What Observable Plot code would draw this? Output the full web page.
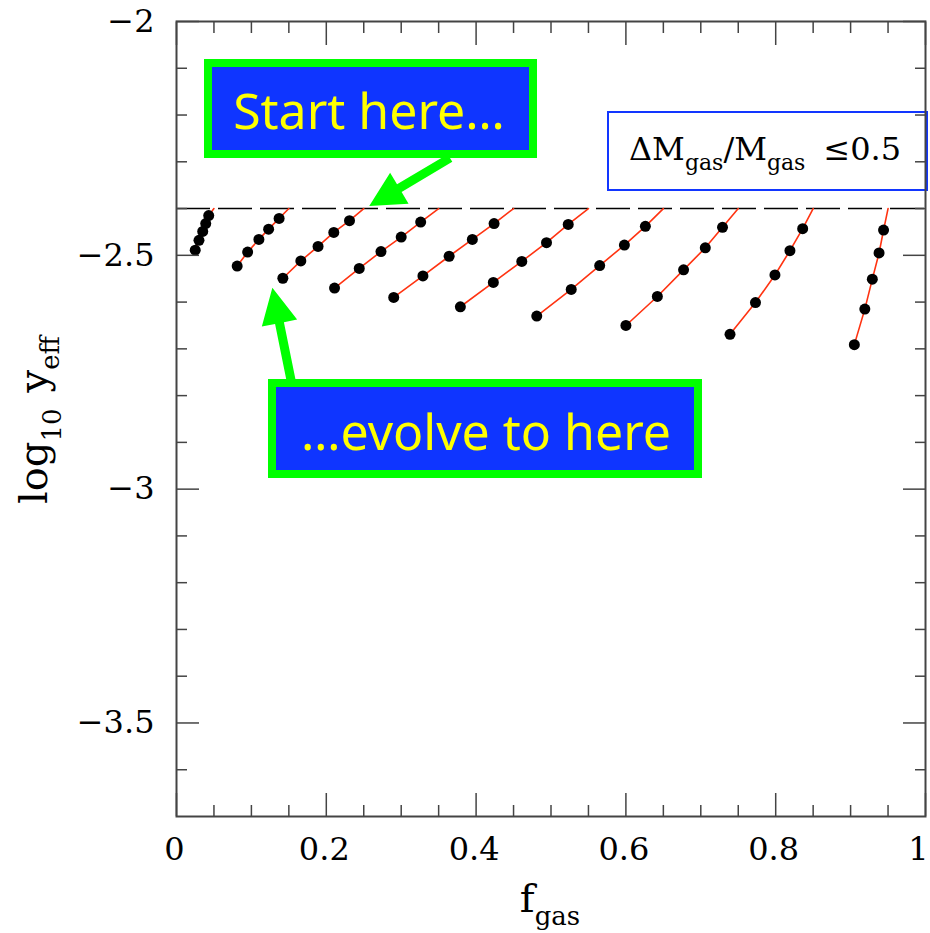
<!DOCTYPE html>
<html><head><meta charset="utf-8">
<script src="https://cdn.jsdelivr.net/npm/d3@7"></script>
<script src="https://cdn.jsdelivr.net/npm/@observablehq/plot@0.6"></script>
<style>body{margin:0;background:#fff} #chart{width:930px;height:933px}</style>
</head><body><div id="chart"></div>
<script>
// Each track starts on the dashed line (log y_eff = -2.4) and evolves down-left.
const startFgas = [0.05, 0.15, 0.25, 0.35, 0.45, 0.55, 0.65, 0.75, 0.85, 0.95];
const startLogY = -2.4;
const trackFgas = [
  [0.025, 0.030, 0.035, 0.039, 0.043],
  [0.081, 0.095, 0.110, 0.123, 0.137],
  [0.142, 0.166, 0.189, 0.210, 0.231],
  [0.211, 0.244, 0.273, 0.300, 0.326],
  [0.290, 0.329, 0.364, 0.395, 0.424],
  [0.379, 0.423, 0.461, 0.494, 0.523],
  [0.481, 0.527, 0.565, 0.598, 0.626],
  [0.600, 0.642, 0.677, 0.706, 0.729],
  [0.739, 0.773, 0.799, 0.819, 0.836],
  [0.905, 0.919, 0.929, 0.938, 0.944]
];
const trackLogY = [
  [-2.489, -2.468, -2.449, -2.432, -2.415],
  [-2.523, -2.493, -2.466, -2.444, -2.421],
  [-2.549, -2.512, -2.481, -2.451, -2.426],
  [-2.570, -2.528, -2.492, -2.461, -2.429],
  [-2.590, -2.544, -2.502, -2.466, -2.432],
  [-2.610, -2.558, -2.513, -2.473, -2.434],
  [-2.630, -2.573, -2.522, -2.478, -2.438],
  [-2.650, -2.588, -2.531, -2.484, -2.440],
  [-2.669, -2.601, -2.542, -2.490, -2.443],
  [-2.691, -2.615, -2.551, -2.495, -2.446]
];
const xMajorTicks = [0, 0.2, 0.4, 0.6, 0.8, 1];
const xMinorTicks = [0.05, 0.1, 0.15, 0.25, 0.3, 0.35, 0.45, 0.5, 0.55, 0.65, 0.7, 0.75, 0.85, 0.9, 0.95];
const yMajorTicks = [-2, -2.5, -3, -3.5];
const yMinorTicks = [-2.1, -2.2, -2.3, -2.4, -2.6, -2.7, -2.8, -2.9, -3.1, -3.2, -3.3, -3.4, -3.6];
const startLabel = "Start here…";
const endLabel = "…evolve to here";

// Build tables
const lineRows = [];
const dotRows = [];
trackFgas.forEach((xs, i) => {
  xs.forEach((x, j) => {
    lineRows.push({track: i, x, y: trackLogY[i][j]});
    dotRows.push({track: i, x, y: trackLogY[i][j]});
  });
  lineRows.push({track: i, x: startFgas[i], y: startLogY});
});

const axisColor = "#444";
const serif = "DejaVu Serif";
const xLabelOpts = {anchor: "bottom", tickSize: 0, tickPadding: 21, fontSize: 32, fontFamily: serif, fill: "#000", label: null, tickFormat: d => String(d)};
const plot = Plot.plot({
  width: 930,
  height: 933,
  marginLeft: 176,
  marginRight: 5,
  marginTop: 21,
  marginBottom: 117,
  style: {fontFamily: serif, background: "#fff"},
  x: {domain: [0, 1], label: null},
  y: {domain: [-3.7, -2], label: null},
  marks: [
    Plot.ruleY([startLogY], {stroke: "#000", strokeWidth: 1.6, strokeDasharray: "34,8"}),
    Plot.line(lineRows, {x: "x", y: "y", z: "track", stroke: "#ff3311", strokeWidth: 1.6}),
    Plot.dot(dotRows, {x: "x", y: "y", r: 5.5, fill: "#000"}),
    // bottom
    Plot.axisX(xMajorTicks, {anchor: "bottom", tickSize: -23, tickFormat: () => "", stroke: axisColor, strokeWidth: 1.5, label: null}),
    Plot.axisX(xMajorTicks.filter(d => d < 1), {...xLabelOpts, dx: -2}),
    Plot.axisX(xMajorTicks.filter(d => d === 1), {...xLabelOpts, dx: -7}),
    Plot.axisX(xMinorTicks, {anchor: "bottom", tickSize: -11, tickFormat: () => "", stroke: axisColor, strokeWidth: 1.5, label: null}),
    // top
    Plot.axisX(xMajorTicks, {anchor: "top", tickSize: -23, tickFormat: () => "", stroke: axisColor, strokeWidth: 1.5, label: null}),
    Plot.axisX(xMinorTicks, {anchor: "top", tickSize: -11, tickFormat: () => "", stroke: axisColor, strokeWidth: 1.5, label: null}),
    // left
    Plot.axisY(yMajorTicks, {anchor: "left", tickSize: -23, tickPadding: 45, fontSize: 32, fontFamily: serif, stroke: axisColor, strokeWidth: 1.5, fill: "#000", label: null, tickFormat: d => (d < 0 ? "\u2212" : "") + String(Math.abs(d))}),
    Plot.axisY(yMinorTicks, {anchor: "left", tickSize: -11, tickFormat: () => "", stroke: axisColor, strokeWidth: 1.5, label: null}),
    // right
    Plot.axisY(yMajorTicks, {anchor: "right", tickSize: -23, tickFormat: () => "", stroke: axisColor, strokeWidth: 1.5, label: null}),
    Plot.axisY(yMinorTicks, {anchor: "right", tickSize: -11, tickFormat: () => "", stroke: axisColor, strokeWidth: 1.5, label: null}),
    Plot.frame({stroke: axisColor, strokeWidth: 2})
  ]
});
document.getElementById("chart").appendChild(plot);

const X = plot.scale("x").apply, Y = plot.scale("y").apply;
const svg = d3.select(plot);

// Legend-like box (drawn beneath the plot marks)
const lg = svg.insert("g", ":first-child");
lg.append("rect").attr("x", 608).attr("y", 112).attr("width", 319).attr("height", 78)
  .attr("fill", "#fff").attr("stroke", "#1236ff").attr("stroke-width", 2);
const lt = lg.append("text").attr("x", 629).attr("y", 160).attr("text-anchor", "start")
  .attr("font-family", serif).attr("font-size", 32).attr("fill", "#000");
lt.append("tspan").text("\u0394M");
lt.append("tspan").attr("font-size", 22).attr("dy", 10).text("gas");
lt.append("tspan").attr("dy", -10).text("/M");
lt.append("tspan").attr("font-size", 22).attr("dy", 10).text("gas");
lt.append("tspan").attr("dy", -10).attr("dx", 18).text("\u22640.5");

// Axis labels
const yl = svg.append("text").attr("transform", "translate(47,420) rotate(-90)")
  .attr("text-anchor", "middle").attr("font-family", serif).attr("font-size", 40).attr("fill", "#000");
yl.append("tspan").text("log");
yl.append("tspan").attr("font-size", 26).attr("dy", 14).text("10");
yl.append("tspan").attr("dy", -14).attr("dx", 16).text("y");
yl.append("tspan").attr("font-size", 26).attr("dy", 12).text("eff");

const xl = svg.append("text").attr("x", 550).attr("y", 912)
  .attr("text-anchor", "middle").attr("font-family", serif).attr("font-size", 40).attr("fill", "#000");
xl.append("tspan").text("f");
xl.append("tspan").attr("font-size", 26).attr("dy", 13).text("gas");

// Annotation boxes and arrows
const green = "#00ff00", blue = "#0f35ff", yellow = "#ffff00";
function arrow(tip, tail, headLen, headHalf, shaftHalf) {
  const dx = tip[0] - tail[0], dy = tip[1] - tail[1];
  const L = Math.hypot(dx, dy), ux = dx / L, uy = dy / L, px = -uy, py = ux;
  const bx = tip[0] - ux * headLen, by = tip[1] - uy * headLen;
  const pts = [
    [tail[0] + px * shaftHalf, tail[1] + py * shaftHalf],
    [bx + px * shaftHalf, by + py * shaftHalf],
    [bx + px * headHalf, by + py * headHalf],
    tip,
    [bx - px * headHalf, by - py * headHalf],
    [bx - px * shaftHalf, by - py * shaftHalf],
    [tail[0] - px * shaftHalf, tail[1] - py * shaftHalf]
  ];
  svg.append("polygon").attr("points", pts.map(p => p.join(",")).join(" ")).attr("fill", green);
}
function box(x0, y0, x1, y1, label, cx, baseline) {
  svg.append("rect").attr("x", x0 + 4).attr("y", y0 + 4).attr("width", x1 - x0 - 8).attr("height", y1 - y0 - 8)
    .attr("fill", blue).attr("stroke", green).attr("stroke-width", 8);
  svg.append("text").attr("x", cx).attr("y", baseline).attr("text-anchor", "middle")
    .attr("font-family", "Noto Sans").attr("font-size", 50).attr("fill", yellow).text(label);
}
// arrow 1 points at the start of the third track
const tip1 = [X(startFgas[2]) + 6, Y(startLogY) - 2];
arrow(tip1, [450, 158], 35, 18, 4.5);
// arrow 2 points at the end of the third track
const tip2 = [X(trackFgas[2][0]) - 10, Y(trackLogY[2][0]) + 10];
arrow(tip2, [291, 380], 36, 18, 4.5);
box(204, 59, 537, 158, startLabel, 369, 129);
box(268, 379, 702, 478, endLabel, 486, 450);
</script>
</body></html>
